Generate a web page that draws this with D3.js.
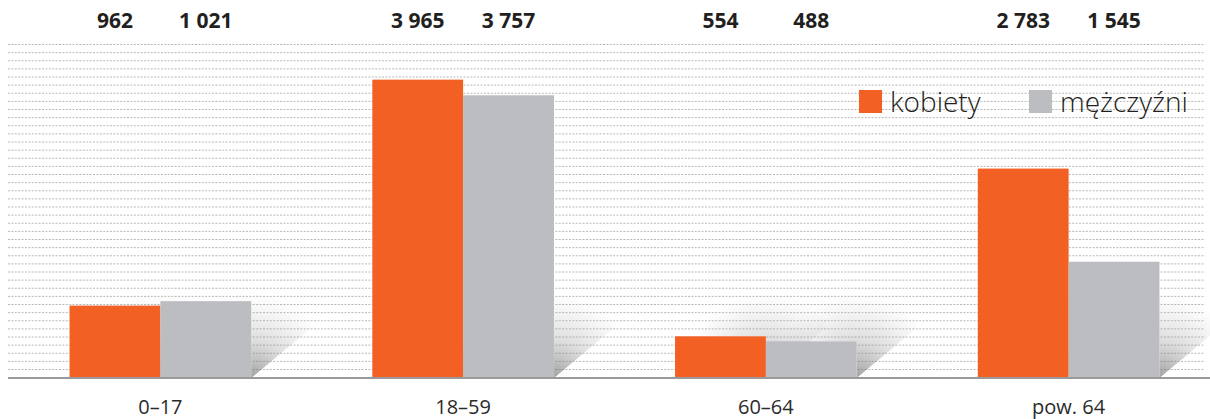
<!DOCTYPE html>
<html>
<head>
<meta charset="utf-8">
<script src="https://cdn.jsdelivr.net/npm/d3@7"></script>
<style>
  html, body { margin: 0; padding: 0; background: #fff; }
  svg { display: block; font-family: "Open Sans", sans-serif; }
</style>
</head>
<body>
<svg id="chart"></svg>
<script>
const width = 1210;
const height = 419;

// data
const categories = ["0–17", "18–59", "60–64", "pow. 64"];
const seriesNames = ["kobiety", "mężczyźni"];
const women = [962, 3965, 554, 2783];
const men = [1021, 3757, 488, 1545];
const colors = ["#f26023", "#bcbdc0"];

const gridCount = 41;
const baseline = 378;

const svg = d3.select("#chart")
    .attr("width", width)
    .attr("height", height);

const x = d3.scaleBand()
    .domain(categories)
    .range([9, 1220])
    .paddingInner(0.4)
    .paddingOuter(0.2);

const xSub = d3.scaleBand()
    .domain(seriesNames)
    .range([0, x.bandwidth()]);

const y = d3.scaleLinear()
    .domain([0, 4000])
    .range([baseline, baseline - 301]);

const gridY = d3.scaleLinear()
    .domain([1, gridCount])
    .range([369.5, 44.5]);

const fmt = d3.formatLocale({decimal: ",", thousands: " ", grouping: [3], currency: ["", ""]}).format(",d");

const data = categories.map((c, i) => ({
  cat: c,
  values: [women[i], men[i]].map((v, j) => ({cat: c, name: seriesNames[j], value: v, idx: j, gi: i}))
}));
const bars = data.flatMap(d => d.values);

// dotted grid
svg.append("g")
  .selectAll("line")
  .data(d3.range(1, gridCount + 1))
  .join("line")
    .attr("x1", 8)
    .attr("x2", 1205)
    .attr("y1", d => gridY(d))
    .attr("y2", d => gridY(d))
    .attr("stroke", "#b8b8b8")
    .attr("stroke-width", 1)
    .attr("stroke-dasharray", "2,1.4");

// shadows
const defs = svg.append("defs");
const dx = 60, dy = -50;

bars.forEach((d, k) => {
  const xr = x(d.cat) + xSub(d.name) + xSub.bandwidth();
  const g = defs.append("radialGradient")
      .attr("id", "sh" + k)
      .attr("gradientUnits", "userSpaceOnUse")
      .attr("cx", xr)
      .attr("cy", baseline)
      .attr("r", 85);
  g.append("stop").attr("offset", 0).attr("stop-color", "#6e6e6e").attr("stop-opacity", 0.65);
  g.append("stop").attr("offset", 0.45).attr("stop-color", "#8a8a8a").attr("stop-opacity", 0.28);
  g.append("stop").attr("offset", 1).attr("stop-color", "#aaaaaa").attr("stop-opacity", 0);
});

svg.append("g")
  .selectAll("polygon")
  .data(bars)
  .join("polygon")
    .attr("points", d => {
      const xl = x(d.cat) + xSub(d.name);
      const xr = xl + xSub.bandwidth();
      const t = y(d.value);
      return [[xl, t], [xl + dx, t + dy], [xr + dx, t + dy], [xr + dx, baseline + dy], [xr, baseline], [xr, t]]
        .map(p => p.join(",")).join(" ");
    })
    .attr("fill", (d, k) => `url(#sh${k})`);

// bars
svg.append("g")
  .selectAll("rect")
  .data(bars)
  .join("rect")
    .attr("x", d => x(d.cat) + xSub(d.name))
    .attr("y", d => y(d.value))
    .attr("width", xSub.bandwidth())
    .attr("height", d => baseline - y(d.value))
    .attr("fill", d => colors[d.idx]);

// baseline
svg.append("line")
    .attr("x1", 8)
    .attr("x2", width)
    .attr("y1", baseline)
    .attr("y2", baseline)
    .attr("stroke", "#9a9a9c")
    .attr("stroke-width", 2.2);

// value labels on top
svg.append("g")
  .selectAll("text")
  .data(bars)
  .join("text")
    .attr("x", d => x(d.cat) + xSub(d.name) + xSub.bandwidth() / 2)
    .attr("y", 28)
    .attr("text-anchor", "middle")
    .attr("font-size", 21)
    .attr("font-weight", 700)
    .attr("fill", "#231f20")
    .text(d => fmt(d.value));

// category labels
const xAxis = d3.axisBottom(x).tickSize(0).tickPadding(0);
svg.append("g")
    .attr("transform", `translate(0,${baseline})`)
    .call(xAxis)
    .call(g => g.select(".domain").remove())
    .call(g => g.selectAll("text")
        .attr("dy", null)
        .attr("y", 35.5)
        .attr("font-family", "Open Sans, sans-serif")
        .attr("font-size", 20)
        .attr("font-weight", 400)
        .attr("fill", "#2b2b2b"));

// legend
const legend = svg.append("g")
  .selectAll("g")
  .data(seriesNames)
  .join("g")
    .attr("transform", (d, i) => `translate(${859 + i * 170},90)`);

legend.append("rect")
    .attr("width", 23)
    .attr("height", 23)
    .attr("fill", (d, i) => colors[i]);

legend.append("text")
    .attr("x", 31)
    .attr("y", 22)
    .attr("font-size", 28)
    .attr("font-weight", 300)
    .attr("fill", "#231f20")
    .text(d => d);
</script>
</body>
</html>
